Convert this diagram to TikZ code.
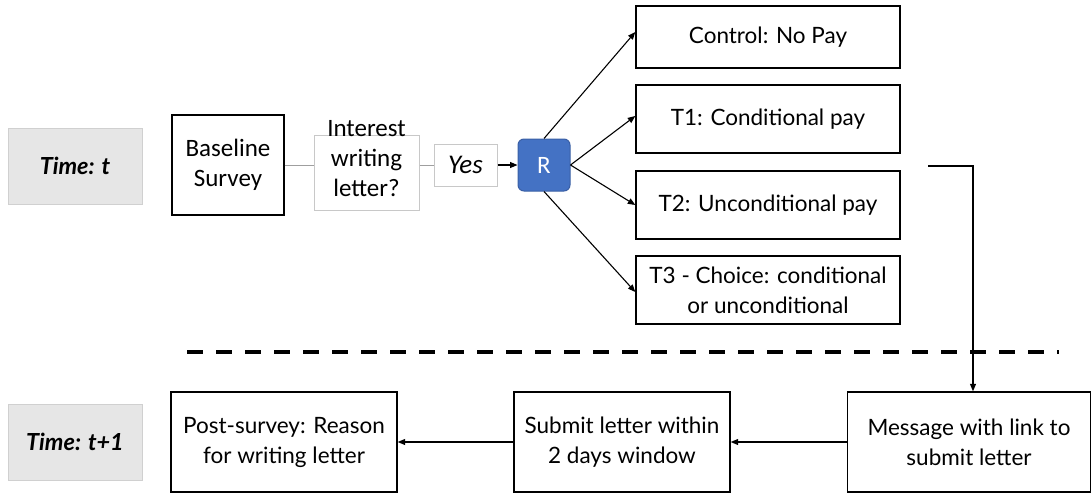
\documentclass[tikz,border=0pt]{standalone}
\usepackage{fontspec}
\setmainfont{Lato}
\newfontfamily\calfont{Carlito}
\usetikzlibrary{arrows.meta}
\definecolor{rblue}{HTML}{4472C4}
\definecolor{rborder}{HTML}{3A5FA5}
\definecolor{timegray}{HTML}{E6E6E6}
\definecolor{timeedge}{HTML}{D0D0D0}
\definecolor{softedge}{HTML}{C8C8C8}
\begin{document}
\begin{tikzpicture}[x=1pt,y=-1pt,
  box/.style={draw=black, line width=1.4pt, align=center, inner sep=0pt,
    font=\fontsize{22.5}{30}\selectfont},
  timebox/.style={fill=timegray, draw=timeedge, line width=1pt, inner sep=0pt,
    minimum width=134pt, minimum height=76pt,
    font=\fontsize{23.5}{28}\selectfont\bfseries\itshape},
  calbox/.style={align=center, inner sep=0pt, font=\calfont\fontsize{25}{30}\selectfont},
  softbox/.style={draw=softedge, line width=1pt, inner sep=0pt},
  arr/.style={-{Triangle[length=7.5pt,width=6pt]}, line width=1.1pt},
  plain/.style={draw=gray!75, line width=1pt},
]
\useasboundingbox (0,0) rectangle (1092,493);
% time labels
\node[timebox] (tt) at (75,166) {Time: t};
\node[timebox] (tt1) at (75,442) {Time: t+1};
% top row
\node[box, calbox, minimum width=112pt, minimum height=100pt] (base) at (228,165) {Baseline\\Survey};
\node[softbox, minimum width=105pt, minimum height=75pt] (intbox) at (366.5,172.5) {};
\node[calbox] (inttext) at (366.5,159) {Interest\\writing\\letter?};
\node[softbox, minimum width=63pt, minimum height=42pt, font=\calfont\fontsize{27}{30}\selectfont\itshape] (yes) at (465.5,165) {Yes};
\node[fill=rblue, draw=rborder, line width=1pt, rounded corners=6pt, minimum width=52pt, minimum height=52pt,
  inner sep=0pt, text=white, font=\calfont\fontsize{25}{30}\selectfont] (R) at (544,165) {R};
\node[box, minimum width=264pt, minimum height=62pt] (ctrl) at (768,37) {Control: No Pay};
\node[box, minimum width=264pt, minimum height=68pt] (t1) at (768,119) {T1: Conditional pay};
\node[box, minimum width=264pt, minimum height=68pt] (t2) at (768,205) {T2: Unconditional pay};
\node[box, minimum width=264pt, minimum height=68pt] (t3) at (768,290) {T3 - Choice: conditional\\or unconditional};
% bottom row
\node[box, minimum width=226pt, minimum height=100pt] (post) at (284,442) {Post-survey: Reason\\for writing letter};
\node[box, minimum width=216pt, minimum height=100pt] (sub) at (622,442) {Submit letter within\\2 days window};
\node[box, minimum width=243pt, minimum height=100pt] (msg) at (969,442) {Message with link to\\submit letter};
% connectors
\draw[plain] (base.east) -- (base.east -| intbox.west);
\draw[plain] (intbox.east |- yes.west) -- (yes.west);
\draw[arr] (yes.east) -- (R.west);
\draw[arr] (R.north) -- ([yshift=5pt]ctrl.west);
\draw[arr] (R.east) -- ([yshift=3pt]t1.west);
\draw[arr] (R.east) -- (t2.west);
\draw[arr] (R.south) -- ([yshift=-2pt]t3.west);
\coordinate (c0) at (928,166);
\draw[arr] (c0) -| ([xshift=4pt]msg.north);
\draw[arr] (msg.west) -- (sub.east);
\draw[arr] (sub.west) -- (post.east);
% dashed separator
\coordinate (d1) at (187,352);
\coordinate (d2) at (1059,352);
\draw[line width=3.5pt, dash pattern=on 16pt off 13pt] (d1) -- (d2);
\end{tikzpicture}
\end{document}
